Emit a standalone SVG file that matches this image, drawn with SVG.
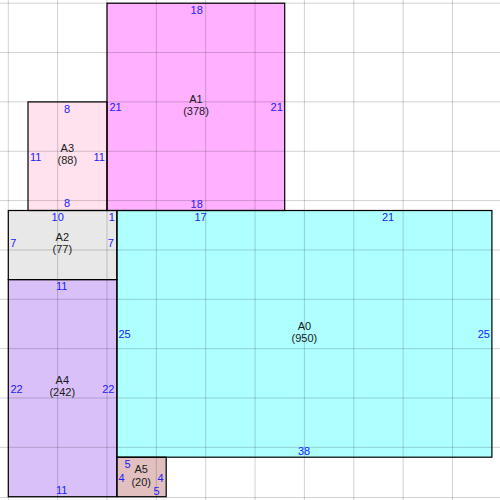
<svg xmlns="http://www.w3.org/2000/svg" width="500" height="500" viewBox="0 0 500 500">
<style>
.box{stroke:#000;stroke-width:1.2}
.grid line{stroke:#000;stroke-opacity:0.18;stroke-width:1}
.nm{font-family:"Liberation Sans",Arial,sans-serif;font-size:11px;fill:#1a1a1a;text-anchor:middle}
.lb{font-family:"Liberation Sans",Arial,sans-serif;font-size:11px;fill:#2020ff}
.c{text-anchor:middle}
.s{text-anchor:start}
.e{text-anchor:end}
</style>
<rect width="500" height="500" fill="#fff"/>
<g id="fills">
<rect x="116.9" y="210.5" width="375" height="246.7" fill="#aeffff"/>
<rect x="107" y="3.2" width="177.7" height="207.3" fill="#ffb0ff"/>
<rect x="28" y="101.9" width="79" height="108.6" fill="#ffe2ee"/>
<rect x="8.3" y="210.5" width="108.6" height="69.1" fill="#e8e8e8"/>
<rect x="8.3" y="279.6" width="108.6" height="217.1" fill="#d9c0f8"/>
<rect x="116.9" y="457.2" width="49.3" height="39.5" fill="#e2c0c0"/>
</g>
<g class="grid">
<line x1="8.3" y1="0" x2="8.3" y2="500"/>
<line x1="57.65" y1="0" x2="57.65" y2="500"/>
<line x1="107" y1="0" x2="107" y2="500"/>
<line x1="156.35" y1="0" x2="156.35" y2="500"/>
<line x1="205.7" y1="0" x2="205.7" y2="500"/>
<line x1="255.05" y1="0" x2="255.05" y2="500"/>
<line x1="304.4" y1="0" x2="304.4" y2="500"/>
<line x1="353.75" y1="0" x2="353.75" y2="500"/>
<line x1="403.1" y1="0" x2="403.1" y2="500"/>
<line x1="452.45" y1="0" x2="452.45" y2="500"/>
<line x1="0" y1="3.2" x2="500" y2="3.2"/>
<line x1="0" y1="52.55" x2="500" y2="52.55"/>
<line x1="0" y1="101.9" x2="500" y2="101.9"/>
<line x1="0" y1="151.25" x2="500" y2="151.25"/>
<line x1="0" y1="200.6" x2="500" y2="200.6"/>
<line x1="0" y1="249.95" x2="500" y2="249.95"/>
<line x1="0" y1="299.3" x2="500" y2="299.3"/>
<line x1="0" y1="348.65" x2="500" y2="348.65"/>
<line x1="0" y1="398" x2="500" y2="398"/>
<line x1="0" y1="447.35" x2="500" y2="447.35"/>
<line x1="0" y1="497.5" x2="500" y2="497.5"/>
</g>
<g id="connectors"></g>
<g id="A0">
<rect class="box" x="116.9" y="210.5" width="375" height="246.7" fill="none"/>
<text class="nm" x="304.4" y="330">A0</text>
<text class="nm" x="304.4" y="342">(950)</text>
<text class="lb c" x="200.5" y="221">17</text>
<text class="lb c" x="388" y="221">21</text>
<text class="lb s" x="118.5" y="338">25</text>
<text class="lb e" x="490" y="338">25</text>
<text class="lb c" x="304" y="455">38</text>
</g>
<g id="A1">
<rect class="box" x="107" y="3.2" width="177.7" height="207.3" fill="none"/>
<text class="nm" x="196" y="103.3">A1</text>
<text class="nm" x="196" y="115">(378)</text>
<text class="lb c" x="196.7" y="14">18</text>
<text class="lb c" x="196.7" y="207.7">18</text>
<text class="lb s" x="109.5" y="111">21</text>
<text class="lb e" x="282.8" y="111">21</text>
</g>
<g id="A3">
<rect class="box" x="28" y="101.9" width="79" height="108.6" fill="none"/>
<text class="nm" x="67.3" y="152">A3</text>
<text class="nm" x="67.3" y="164">(88)</text>
<text class="lb c" x="67" y="112.8">8</text>
<text class="lb c" x="67" y="207.4">8</text>
<text class="lb s" x="30" y="160.7">11</text>
<text class="lb e" x="104.8" y="160.7">11</text>
</g>
<g id="A2">
<rect class="box" x="8.3" y="210.5" width="108.6" height="69.1" fill="none"/>
<text class="nm" x="62.3" y="240.5">A2</text>
<text class="nm" x="62.3" y="253">(77)</text>
<text class="lb c" x="57.7" y="221">10</text>
<text class="lb c" x="111.8" y="221">1</text>
<text class="lb s" x="10.3" y="247.3">7</text>
<text class="lb e" x="113.8" y="247.3">7</text>
</g>
<g id="A4">
<rect class="box" x="8.3" y="279.6" width="108.6" height="217.1" fill="none"/>
<text class="nm" x="62.3" y="384.3">A4</text>
<text class="nm" x="62.3" y="396.2">(242)</text>
<text class="lb c" x="61.7" y="290">11</text>
<text class="lb c" x="61.7" y="494.3">11</text>
<text class="lb s" x="10.5" y="392.7">22</text>
<text class="lb e" x="114.4" y="392.7">22</text>
</g>
<g id="A5">
<rect class="box" x="116.9" y="457.2" width="49.3" height="39.5" fill="none"/>
<text class="nm" x="141.2" y="473.3">A5</text>
<text class="nm" x="141.2" y="485.5">(20)</text>
<text class="lb c" x="127.5" y="467.7">5</text>
<text class="lb c" x="156.5" y="495">5</text>
<text class="lb s" x="118.6" y="481.7">4</text>
<text class="lb e" x="163.6" y="481.7">4</text>
</g>
</svg>
